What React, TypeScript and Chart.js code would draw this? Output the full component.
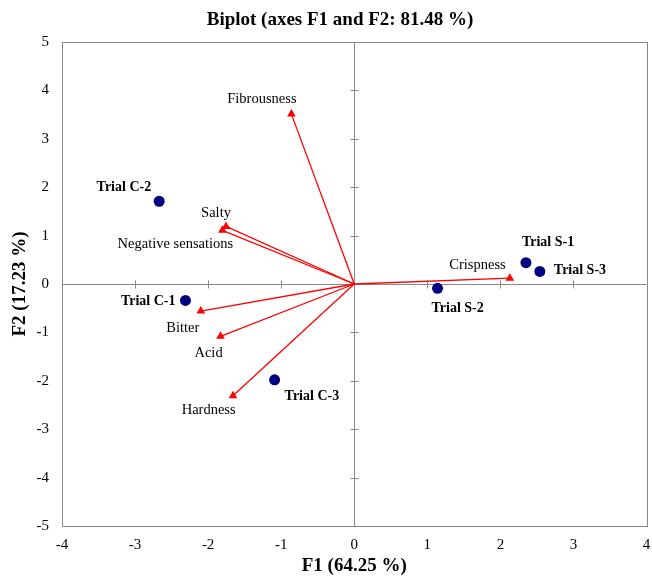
import React, { useEffect, useRef } from "react";
import { Chart, registerables } from "chart.js";

Chart.register(...registerables);

// Observations (F1, F2)
const obsNames = ["Trial C-2", "Trial C-1", "Trial C-3", "Trial S-2", "Trial S-1", "Trial S-3"];
const obsF1 = [-2.67, -2.31, -1.09, 1.14, 2.35, 2.54];
const obsF2 = [1.71, -0.34, -1.98, -0.09, 0.44, 0.26];

// Variables (vector tips)
const varNames = ["Fibrousness", "Salty", "Negative sensations", "Bitter", "Acid", "Hardness", "Crispness"];
const varF1 = [-0.86, -1.755, -1.805, -2.1, -1.83, -1.66, 2.13];
const varF2 = [3.51, 1.19, 1.11, -0.56, -1.08, -2.31, 0.12];

// Axis ranges / tick labels
const xTicks = [-4, -3, -2, -1, 0, 1, 2, 3, 4];
const yTicks = [-5, -4, -3, -2, -1, 0, 1, 2, 3, 4, 5];

const titleText = "Biplot (axes F1 and F2: 81.48 %)";
const xTitle = "F1 (64.25 %)";
const yTitle = "F2 (17.23 %)";

// Label placement (pixel offsets from the mark, and text alignment)
const obsLabelPos: [number, number, CanvasTextAlign][] = [
  [-8, -14, "right"],
  [-10, 0.5, "right"],
  [10, 17, "left"],
  [-6, 20.5, "left"],
  [-4, -20.5, "left"],
  [14, -1, "left"],
];
const varLabelPos: [number, number, CanvasTextAlign][] = [
  [-29.5, -15, "center"],
  [-10, -13.3, "center"],
  [-47, 14, "center"],
  [-18, 16.6, "center"],
  [-12, 17.2, "center"],
  [-24.3, 14, "center"],
  [-32.4, -13.4, "center"],
];

const SERIF = "'Liberation Serif', 'DejaVu Serif', serif";
const GRAY = "#8a8a8a";
const RED = "#ff0000";
const NAVY = "#000080";

export default function App() {
  const ref = useRef<HTMLCanvasElement | null>(null);

  useEffect(() => {
    const canvas = ref.current;
    if (!canvas) return;

    const framePlugin = {
      id: "frame",
      beforeDatasetsDraw(chart: any) {
        const { ctx, chartArea: a, scales } = chart;
        const xs = scales.x;
        const ys = scales.y;
        ctx.save();
        ctx.strokeStyle = GRAY;
        ctx.lineWidth = 1;
        ctx.strokeRect(Math.round(a.left) + 0.5, Math.round(a.top) + 0.5, Math.round(a.right - a.left), Math.round(a.bottom - a.top));
        const x0 = Math.round(xs.getPixelForValue(0)) + 0.5;
        const y0 = Math.round(ys.getPixelForValue(0)) + 0.5;
        ctx.beginPath();
        ctx.moveTo(x0, a.top);
        ctx.lineTo(x0, a.bottom);
        ctx.moveTo(a.left, y0);
        ctx.lineTo(a.right, y0);
        for (const v of xTicks) {
          if (v === xTicks[0] || v === xTicks[xTicks.length - 1] || v === 0) continue;
          const px = Math.round(xs.getPixelForValue(v)) + 0.5;
          ctx.moveTo(px, y0 - 4);
          ctx.lineTo(px, y0 + 4);
        }
        for (const v of yTicks) {
          if (v === yTicks[0] || v === yTicks[yTicks.length - 1] || v === 0) continue;
          const py = Math.round(ys.getPixelForValue(v)) + 0.5;
          ctx.moveTo(x0 - 4, py);
          ctx.lineTo(x0 + 4, py);
        }
        ctx.stroke();
        ctx.restore();
      },
      afterDatasetsDraw(chart: any) {
        const { ctx, scales } = chart;
        const xs = scales.x;
        const ys = scales.y;
        ctx.save();
        ctx.fillStyle = "#000";
        ctx.textBaseline = "middle";
        ctx.font = `bold 14px ${SERIF}`;
        obsNames.forEach((n, i) => {
          const [dx, dy, al] = obsLabelPos[i];
          ctx.textAlign = al;
          ctx.fillText(n, xs.getPixelForValue(obsF1[i]) + dx, ys.getPixelForValue(obsF2[i]) + dy);
        });
        ctx.font = `14.5px ${SERIF}`;
        varNames.forEach((n, i) => {
          const [dx, dy, al] = varLabelPos[i];
          ctx.textAlign = al;
          ctx.fillText(n, xs.getPixelForValue(varF1[i]) + dx, ys.getPixelForValue(varF2[i]) + dy);
        });
        // chart title
        ctx.font = `bold 19px ${SERIF}`;
        ctx.textAlign = "center";
        ctx.fillText(titleText, 340, 20);
        ctx.restore();
      },
    };

    const vectorSets = varNames.map((n, i) => ({
      label: n,
      data: [
        { x: 0, y: 0 },
        { x: varF1[i], y: varF2[i] },
      ],
      showLine: true,
      borderColor: RED,
      borderWidth: 1.3,
      backgroundColor: RED,
      pointStyle: "triangle" as const,
      pointRadius: [0, 5],
      pointBorderWidth: 0,
      pointBackgroundColor: RED,
      pointBorderColor: RED,
      order: 2,
    }));

    const chart = new Chart(canvas, {
      type: "scatter",
      data: {
        datasets: [
          ...vectorSets,
          {
            label: "Observations",
            data: obsF1.map((x, i) => ({ x, y: obsF2[i] })),
            backgroundColor: NAVY,
            borderColor: NAVY,
            pointRadius: 5.5,
            pointBorderWidth: 0,
            order: 1,
          } as any,
        ],
      },
      options: {
        animation: false,
        responsive: false,
        maintainAspectRatio: false,
        layout: { padding: { top: 42, right: 2, left: 0, bottom: 0 } },
        plugins: {
          legend: { display: false },
          tooltip: { enabled: false },
          title: { display: false },
        },
        scales: {
          x: {
            type: "linear",
            min: xTicks[0],
            max: xTicks[xTicks.length - 1],
            afterBuildTicks: (s: any) => {
              s.ticks = xTicks.map((v) => ({ value: v }));
            },
            afterFit: (s: any) => {
              s.height = 51;
              s.paddingLeft = 0;
              s.paddingRight = 0;
            },
            grid: { display: false, drawTicks: false },
            border: { display: false },
            ticks: {
              color: "#000",
              font: { family: SERIF, size: 15 },
              padding: 10,
              maxRotation: 0,
              autoSkip: false,
            },
            title: {
              display: true,
              text: xTitle,
              color: "#000",
              font: { family: SERIF, size: 19, weight: "bold" },
              padding: { top: 0, bottom: 0 },
            },
          },
          y: {
            type: "linear",
            min: yTicks[0],
            max: yTicks[yTicks.length - 1],
            afterBuildTicks: (s: any) => {
              s.ticks = yTicks.map((v) => ({ value: v }));
            },
            afterFit: (s: any) => {
              s.width = 62;
              s.paddingTop = 0;
              s.paddingBottom = 0;
            },
            grid: { display: false, drawTicks: false },
            border: { display: false },
            ticks: {
              color: "#000",
              font: { family: SERIF, size: 15 },
              padding: 13,
              autoSkip: false,
            },
            title: {
              display: true,
              text: yTitle,
              color: "#000",
              font: { family: SERIF, size: 19, weight: "bold" },
              padding: { top: 9, bottom: 0 },
            },
          },
        },
      },
      plugins: [framePlugin],
    });

    return () => chart.destroy();
  }, []);

  return (
    <div style={{ position: "absolute", left: 0, top: 0, width: 652, height: 577, background: "#fff" }}>
      <canvas ref={ref} width={652} height={577} style={{ display: "block" }} />
    </div>
  );
}
